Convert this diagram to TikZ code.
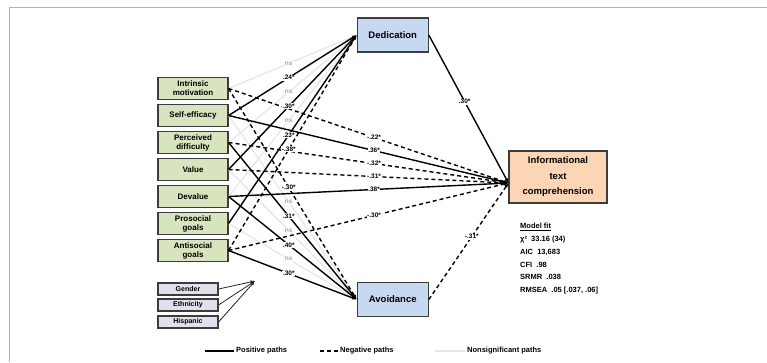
\documentclass[tikz,border=0pt]{standalone}
\usepackage{fontspec}
\setmainfont{Liberation Sans}
\usetikzlibrary{arrows.meta,calc}
\definecolor{predfill}{HTML}{D7E4BD}
\definecolor{ctrlfill}{HTML}{E4DFEC}
\definecolor{engfill}{HTML}{C6D9F1}
\definecolor{outfill}{HTML}{FCD5B5}
\definecolor{boxline}{HTML}{3C3C3C}
\definecolor{nsgray}{HTML}{E6E6E6}
\begin{document}
\begin{tikzpicture}[x=1pt,y=-1pt,
  box/.style={draw=boxline, line width=1.1pt, inner sep=0pt, align=center},
  pred/.style={box, fill=predfill, minimum width=70pt, minimum height=22pt,
    font=\fontsize{8}{9}\selectfont\bfseries},
  ctrl/.style={box, fill=ctrlfill, minimum width=60pt, minimum height=12pt,
    font=\fontsize{7}{8}\selectfont\bfseries},
  eng/.style={box, fill=engfill, minimum width=71pt, minimum height=34pt,
    font=\fontsize{9.5}{11}\selectfont\bfseries},
  outc/.style={box, fill=outfill, minimum width=98pt, minimum height=52pt,
    font=\fontsize{9.5}{15.5}\selectfont\bfseries},
  tip/.style={-{Latex[length=4.5pt,width=3.5pt]}},
  ppath/.style={tip, draw=black, line width=1.4pt},
  npath/.style={tip, draw=black, line width=1.4pt, dash pattern=on 4pt off 3pt},
  nspath/.style={tip, draw=nsgray, line width=1.2pt},
  lab/.style={fill=white, inner sep=0.6pt, font=\fontsize{6.5}{7}\selectfont\bfseries},
  nslab/.style={lab, text=black!35},
  legtext/.style={anchor=west, inner sep=1pt, font=\fontsize{7.5}{8}\selectfont\bfseries}
]
\useasboundingbox (0,0) rectangle (767,362);
\fill[white] (0,0) rectangle (767,362);
% frame
\draw[black!30, line width=0.8pt] (9,362) -- (9,7) -- (767,7);

% predictors
\node[pred] (I)  at (193,88.5)  {Intrinsic\\motivation};
\node[pred] (S)  at (193,115.5) {Self-efficacy};
\node[pred] (P)  at (193,142.5) {Perceived\\difficulty};
\node[pred] (V)  at (193,169.5) {Value};
\node[pred] (Dv) at (193,196.5) {Devalue};
\node[pred] (Ps) at (193,223.5) {Prosocial\\goals};
\node[pred] (A)  at (193,250.5) {Antisocial\\goals};

% controls
\node[ctrl] (C1) at (188,289) {Gender};
\node[ctrl] (C2) at (188,305) {Ethnicity};
\node[ctrl] (C3) at (188,322) {Hispanic};
\coordinate (CT) at (255,281);

% engagement and outcome
\node[eng] (D)  at (392.75,35)  {Dedication};
\node[eng] (Av) at (392.75,299.5) {Avoidance};
\node[outc] (O) at (558,177) {Informational\\text\\comprehension};
\coordinate (OIn) at ($(O.west)+(0,6)$);

% ---- paths (lines first) ----
\foreach \src/\st in {I/nspath,P/nspath,Dv/nspath}
  \draw[style=\st] (\src.east) -- (D.west);
\foreach \src/\st in {S/nspath,V/nspath,Ps/nspath}
  \draw[style=\st] (\src.east) -- (Av.west);
\foreach \src/\st in {S/ppath,V/ppath,Ps/ppath,A/npath}
  \draw[style=\st] (\src.east) -- (D.west);
\foreach \src/\st in {I/npath,P/ppath,Dv/ppath,A/ppath}
  \draw[style=\st] (\src.east) -- (Av.west);
\foreach \src/\st in {I/npath,S/ppath,P/npath,V/npath,Dv/ppath,A/npath}
  \draw[style=\st] (\src.east) -- (OIn);
\draw[ppath] (D.east) -- (OIn);
\draw[npath] (Av.east) -- (OIn);
\foreach \src in {C1,C2,C3}
  \draw[tip, black!85, line width=0.8pt] (\src.east) -- (CT);

% ---- labels ----
\foreach \src/\t/\ls in {I/ns/nslab,S/.24*/lab,P/ns/nslab,V/.30*/lab,Dv/ns/nslab,Ps/.23*/lab,A/-.38*/lab}
  \path (\src.east) -- node[style=\ls, pos=0.47] {\t} (D.west);
\foreach \src/\t/\ls in {I/-.30*/lab,S/ns/nslab,P/.31*/lab,V/ns/nslab,Dv/.40*/lab,Ps/ns/nslab,A/.30*/lab}
  \path (\src.east) -- node[style=\ls, pos=0.47] {\t} (Av.west);
\foreach \src/\t in {I/-.22*,S/.36*,P/-.32*,V/-.31*,Dv/.38*,A/-.30*}
  \path (\src.east) -- node[lab, pos=0.52] {\t} (OIn);
\path (D.east) -- node[lab, pos=0.45] {.30*} (OIn);
\path (Av.east) -- node[lab, pos=0.54] {-.31*} (OIn);

% fit statistics
\node[anchor=north west, align=left, inner sep=0pt,
  font=\fontsize{7.5}{12.8}\selectfont\bfseries] (fit) at (520,223)
  {\underline{Model fit}\\
   χ²\ \ 33.16 (34)\\
   AIC\ \ 13,683\\
   CFI\ \ .98\\
   SRMR\ \ .038\\
   RMSEA\ \ .05 [.037, .06]};

% legend
\coordinate (L1a) at (205,351); \coordinate (L1b) at (234,351);
\coordinate (L2a) at (320,351); \coordinate (L2b) at (338,351);
\coordinate (L3a) at (435,351); \coordinate (L3b) at (465,351);
\draw[black, line width=1.4pt] (L1a) -- (L1b);
\node[legtext] (T1) at ($(L1b)+(1,0)$) {Positive paths};
\draw[black, line width=1.4pt, dash pattern=on 4pt off 3pt] (L2a) -- (L2b);
\node[legtext] (T2) at ($(L2b)+(1,0)$) {Negative paths};
\draw[nsgray, line width=1.4pt] (L3a) -- (L3b);
\node[legtext] (T3) at ($(L3b)+(1,0)$) {Nonsignificant paths};
\end{tikzpicture}
\end{document}
